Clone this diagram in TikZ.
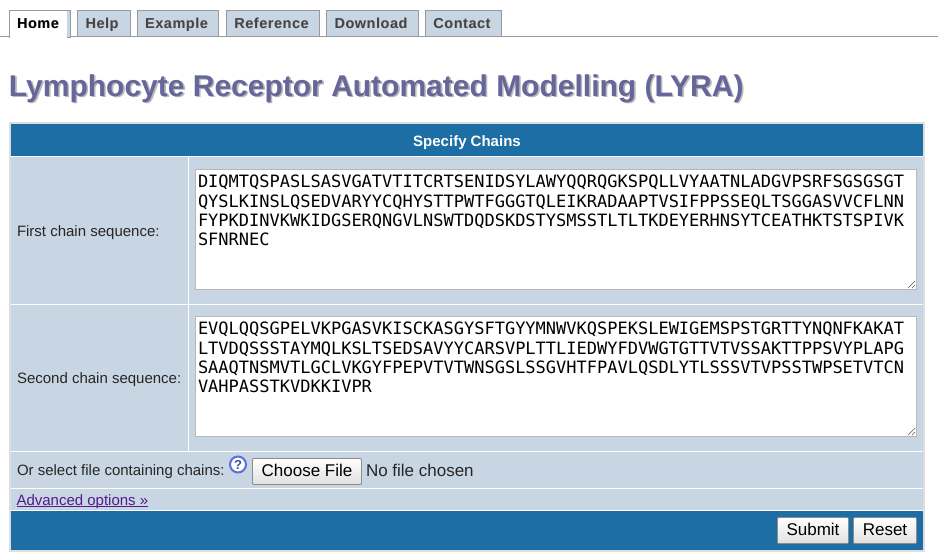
\documentclass[tikz,border=0pt]{standalone}
\usepackage{fontspec}
\setmainfont{Liberation Sans}
\newfontfamily\seqfont{DejaVu Sans Mono}
\newfontfamily\tabfont[LetterSpace=4]{Liberation Sans}
\definecolor{bandblue}{HTML}{1C6EA4}
\definecolor{cellblue}{HTML}{C8D5E3}
\definecolor{edgegrey}{HTML}{999999}
\definecolor{tabtext}{HTML}{444444}
\definecolor{titleblue}{HTML}{66669A}
\definecolor{linkpurple}{HTML}{551A8B}
\definecolor{iconblue}{HTML}{5A70D8}
\newcommand{\shadowed}[4]{\rlap{\kern#3\raisebox{-#3}{\textcolor{#4}{#2}}}\textcolor{#1}{#2}}
\tikzset{
  tabbox/.style={draw=edgegrey,fill=cellblue,line width=1pt},
  tablabel/.style={anchor=base,font=\tabfont\bfseries\fontsize{14.4}{16}\selectfont,inner sep=0pt},
  cellbox/.style={fill=cellblue,draw=none},
  bandbox/.style={fill=bandblue,draw=none},
  seqbox/.style={draw=black!28,fill=white,line width=1pt},
  seqline/.style={anchor=base west,font=\seqfont\fontsize{17}{19}\selectfont,inner sep=0pt},
  formlabel/.style={anchor=base west,font=\fontsize{15}{18}\selectfont,text=black!85,inner sep=0pt},
  btnbox/.style={draw=black!45,line width=0.8pt,top color=white,bottom color=black!12,rounded corners=1pt},
  btnlabel/.style={anchor=base,font=\fontsize{17}{20}\selectfont,inner sep=0pt},
  gripline/.style={draw=black!60,line width=0.7pt,dash pattern=on 1pt off 0.5pt},
}
\begin{document}
\begin{tikzpicture}[x=1pt,y=-1pt,inner sep=0pt,outer sep=0pt]
\useasboundingbox (0,0) rectangle (938,560);
\fill[white] (0,0) rectangle (938,560);

% tabs
\draw[edgegrey,line width=1pt] (0,36.5) -- (938,36.5);
\path[tabbox] (9.5,37) -- (9.5,10.5) -- (70.5,10.5) -- (70.5,37) -- cycle;
\fill[white] (10,11) rectangle (67,38);
\path[tabbox] (77.5,36.5) rectangle (130.5,10.5);
\path[tabbox] (137.5,36.5) rectangle (218.5,10.5);
\path[tabbox] (226.5,36.5) rectangle (319.5,10.5);
\path[tabbox] (326.5,36.5) rectangle (418.5,10.5);
\path[tabbox] (425.5,36.5) rectangle (501.5,10.5);
\node[tablabel] (home) at (38,28) {\shadowed{black}{Home}{0.5pt}{black!35}};
\node[tablabel] (help) at (102,28) {\shadowed{tabtext}{Help}{0.5pt}{black!30}};
\node[tablabel] (example) at (176.5,28) {\shadowed{tabtext}{Example}{0.5pt}{black!30}};
\node[tablabel] (reference) at (271.5,28) {\shadowed{tabtext}{Reference}{0.5pt}{black!30}};
\node[tablabel] (download) at (371,28) {\shadowed{tabtext}{Download}{0.5pt}{black!30}};
\node[tablabel] (contact) at (462,28) {\shadowed{tabtext}{Contact}{0.5pt}{black!30}};

% title
\node[anchor=base west,font=\bfseries\fontsize{30}{36}\selectfont] (title) at (9,96)
  {\shadowed{titleblue}{Lymphocyte Receptor Automated Modelling (LYRA)}{1.6pt}{black!28}};

% form table
\fill[black!13] (9,122) rectangle (925,552);
\fill[white] (11,124) rectangle (923,550);
\path[bandbox] (11,124) rectangle (923,156);
\path[cellbox] (11,157) rectangle (188,304);
\path[cellbox] (189,157) rectangle (923,304);
\path[cellbox] (11,305) rectangle (188,451);
\path[cellbox] (189,305) rectangle (923,451);
\path[cellbox] (11,452) rectangle (923,488);
\path[cellbox] (11,489) rectangle (923,510);
\path[bandbox] (11,511) rectangle (923,550);
\node[anchor=base,font=\bfseries\fontsize{15}{18}\selectfont,text=white] (specify) at (467,146) {Specify Chains};

% first chain
\node[formlabel] (firstlabel) at (17,236) {First chain sequence:};
\path[seqbox] (195.5,169.5) rectangle (916.5,289.5);
\node[seqline] (first1) at (198,187.5) {DIQMTQSPASLSASVGATVTITCRTSENIDSYLAWYQQRQGKSPQLLVYAATNLADGVPSRFSGSGSGT};
\node[seqline] (first2) at (198,207) {QYSLKINSLQSEDVARYYCQHYSTTPWTFGGGTQLEIKRADAAPTVSIFPPSSEQLTSGGASVVCFLNN};
\node[seqline] (first3) at (198,226) {FYPKDINVKWKIDGSERQNGVLNSWTDQDSKDSTYSMSSTLTLTKDEYERHNSYTCEATHKTSTSPIVK};
\node[seqline] (first4) at (198,245) {SFNRNEC};
\draw[gripline] (908,288) -- (915,281) (912,288) -- (915,285);

% second chain
\node[formlabel] (secondlabel) at (17,383) {Second chain sequence:};
\path[seqbox] (195.5,316.5) rectangle (916.5,436.5);
\node[seqline] (second1) at (198,334.5) {EVQLQQSGPELVKPGASVKISCKASGYSFTGYYMNWVKQSPEKSLEWIGEMSPSTGRTTYNQNFKAKAT};
\node[seqline] (second2) at (198,354) {LTVDQSSSTAYMQLKSLTSEDSAVYYCARSVPLTTLIEDWYFDVWGTGTTVTVSSAKTTPPSVYPLAPG};
\node[seqline] (second3) at (198,373) {SAAQTNSMVTLGCLVKGYFPEPVTVTWNSGSLSSGVHTFPAVLQSDLYTLSSSVTVPSSTWPSETVTCN};
\node[seqline] (second4) at (198,392) {VAHPASSTKVDKKIVPR};
\draw[gripline] (908,435) -- (915,428) (912,435) -- (915,432);

% file row
\node[formlabel] (filelabel) at (17,475) {Or select file containing chains:};
\node[circle,draw=iconblue,line width=2pt,fill=white,text=iconblue!70!black,minimum size=16pt,font=\bfseries\fontsize{13}{13}\selectfont] (helpicon) at (238,464.5) {?};
\path[btnbox] (252.5,458.5) rectangle (361.5,484.5);
\node[btnlabel] (choose) at (307,476) {Choose File};
\node[anchor=base west,font=\fontsize{17}{20}\selectfont,text=black!85] (nofile) at (366,476) {No file chosen};

% advanced row
\node[anchor=base west,font=\fontsize{15}{18}\selectfont,text=linkpurple] (advanced) at (16.5,505) {Advanced options »};
\draw[linkpurple,line width=0.9pt] (advanced.base west)+(0,1.6) -- ([yshift=-1.6pt]advanced.base east);

% footer buttons
\path[btnbox] (777.5,517.5) rectangle (848.5,543.5);
\node[btnlabel] (submit) at (813,535) {Submit};
\path[btnbox] (853.5,517.5) rectangle (916.5,543.5);
\node[btnlabel] (reset) at (885,535) {Reset};
\end{tikzpicture}
\end{document}
